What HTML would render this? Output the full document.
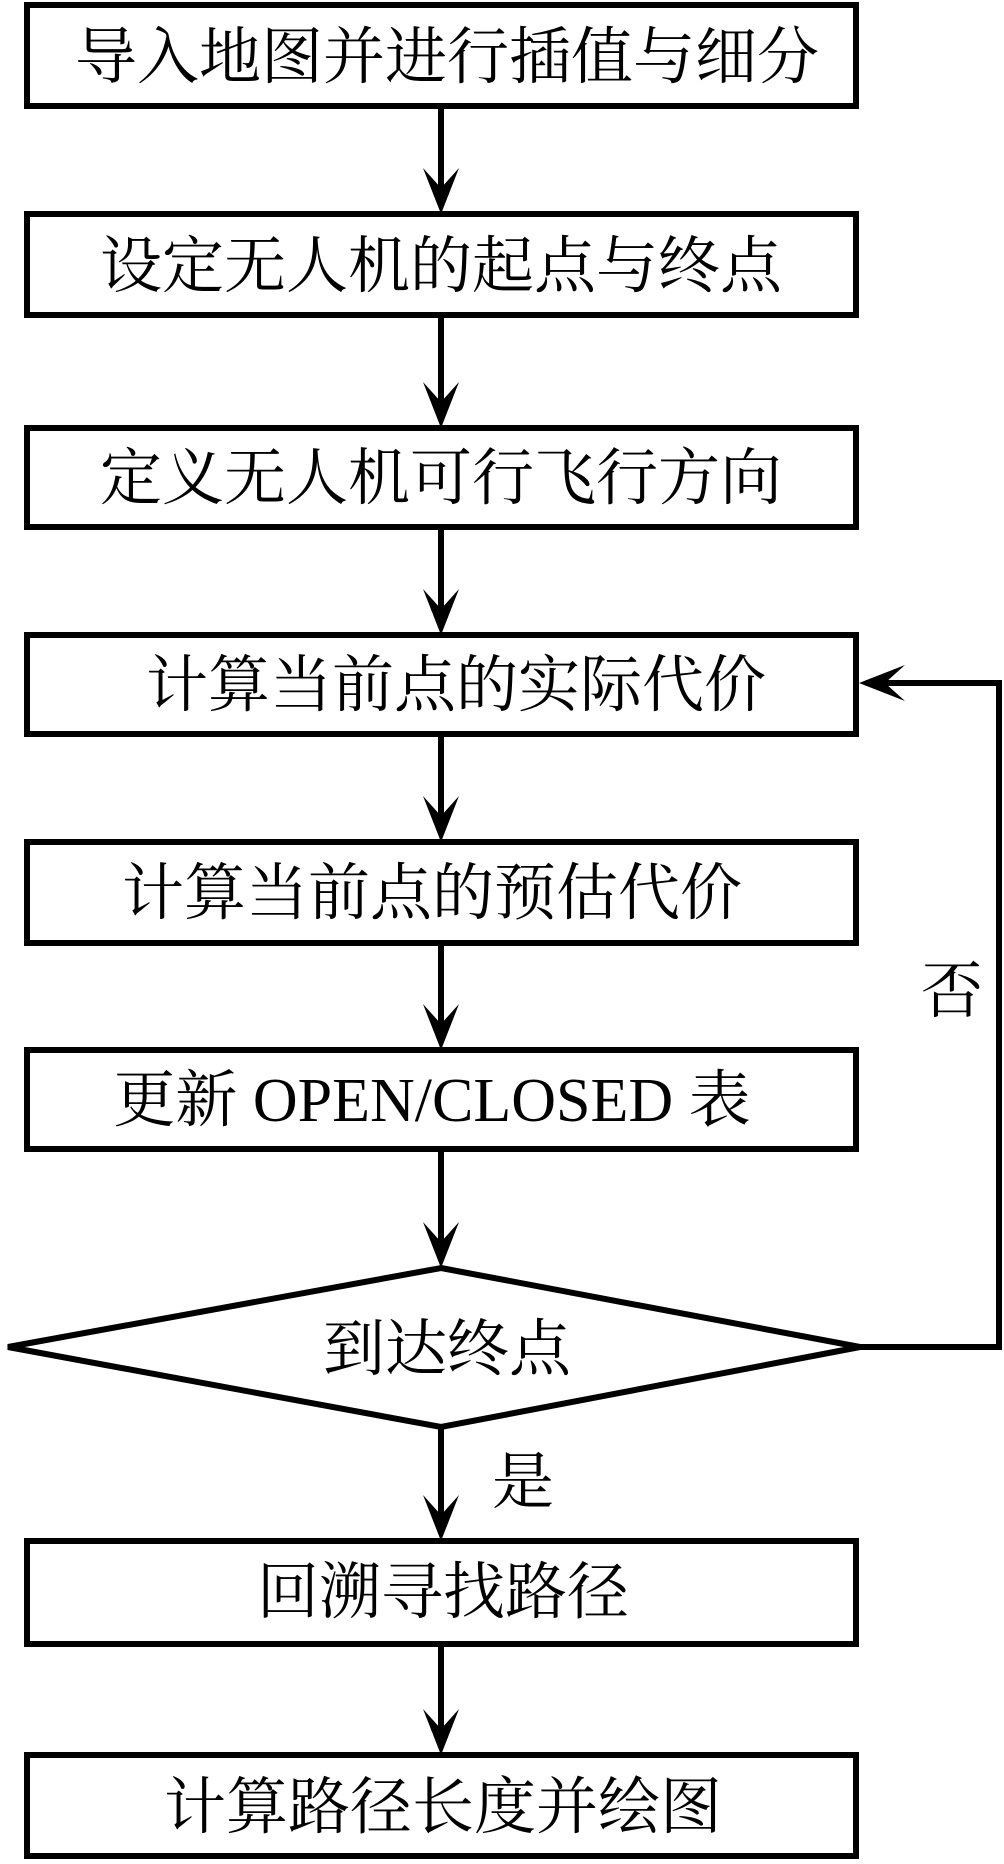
<!DOCTYPE html>
<html><head><meta charset="utf-8"><style>
html,body{margin:0;padding:0;background:#fff;}
svg text{font-family:"Liberation Serif","Noto Serif CJK SC",serif;font-size:62px;fill:#000;}
</style></head><body>
<svg width="1004" height="1859" viewBox="0 0 1004 1859" xmlns="http://www.w3.org/2000/svg">
<defs>
<marker id="a" markerWidth="12" markerHeight="12" refX="10" refY="6" orient="auto" markerUnits="userSpaceOnUse" viewBox="0 0 12 12" style="overflow:visible">
</marker>
</defs>
<g fill="none" stroke="#000" stroke-width="6">
<rect x="27" y="5" width="829" height="101"/>
<rect x="27" y="214" width="829" height="101"/>
<rect x="27" y="428" width="829" height="99"/>
<rect x="27" y="635" width="829" height="99"/>
<rect x="27" y="842" width="829" height="101"/>
<rect x="27" y="1050" width="829" height="99"/>
<polygon points="441,1268 860,1347 441,1427 8,1347"/>
<rect x="27" y="1541" width="829" height="103"/>
<rect x="27" y="1755" width="829" height="101"/>
<line x1="441" y1="106" x2="441" y2="205"/>
<line x1="441" y1="315" x2="441" y2="419"/>
<line x1="441" y1="527" x2="441" y2="626"/>
<line x1="441" y1="734" x2="441" y2="833"/>
<line x1="441" y1="943" x2="441" y2="1041"/>
<line x1="441" y1="1149" x2="441" y2="1259"/>
<line x1="441" y1="1427" x2="441" y2="1532"/>
<line x1="441" y1="1644" x2="441" y2="1746"/>
<polyline points="860,1347 999,1347 999,683 866,683"/>
</g>
<g fill="#000">
<path d="M441,214 L423,168 L441,188 L459,168 Z"/>
<path d="M441,428 L423,382 L441,402 L459,382 Z"/>
<path d="M441,635 L423,589 L441,609 L459,589 Z"/>
<path d="M441,842 L423,796 L441,816 L459,796 Z"/>
<path d="M441,1050 L423,1004 L441,1024 L459,1004 Z"/>
<path d="M441,1268 L423,1222 L441,1242 L459,1222 Z"/>
<path d="M441,1541 L423,1495 L441,1515 L459,1495 Z"/>
<path d="M441,1755 L423,1709 L441,1729 L459,1709 Z"/>
<path d="M859,683 L905,665 L885,683 L905,701 Z"/>
</g>
<g text-anchor="middle">
<text x="447" y="78">导入地图并进行插值与细分</text>
<text x="441" y="287">设定无人机的起点与终点</text>
<text x="441" y="499">定义无人机可行飞行方向</text>
<text x="456" y="706">计算当前点的实际代价</text>
<text x="432" y="914">计算当前点的预估代价</text>
<text x="432" y="1121">更新 OPEN/CLOSED 表</text>
<text x="447" y="1370">到达终点</text>
<text x="443" y="1613">回溯寻找路径</text>
<text x="443" y="1828">计算路径长度并绘图</text>
<text x="952" y="1012">否</text>
<text x="523" y="1503">是</text>
</g>
</svg>
</body></html>
